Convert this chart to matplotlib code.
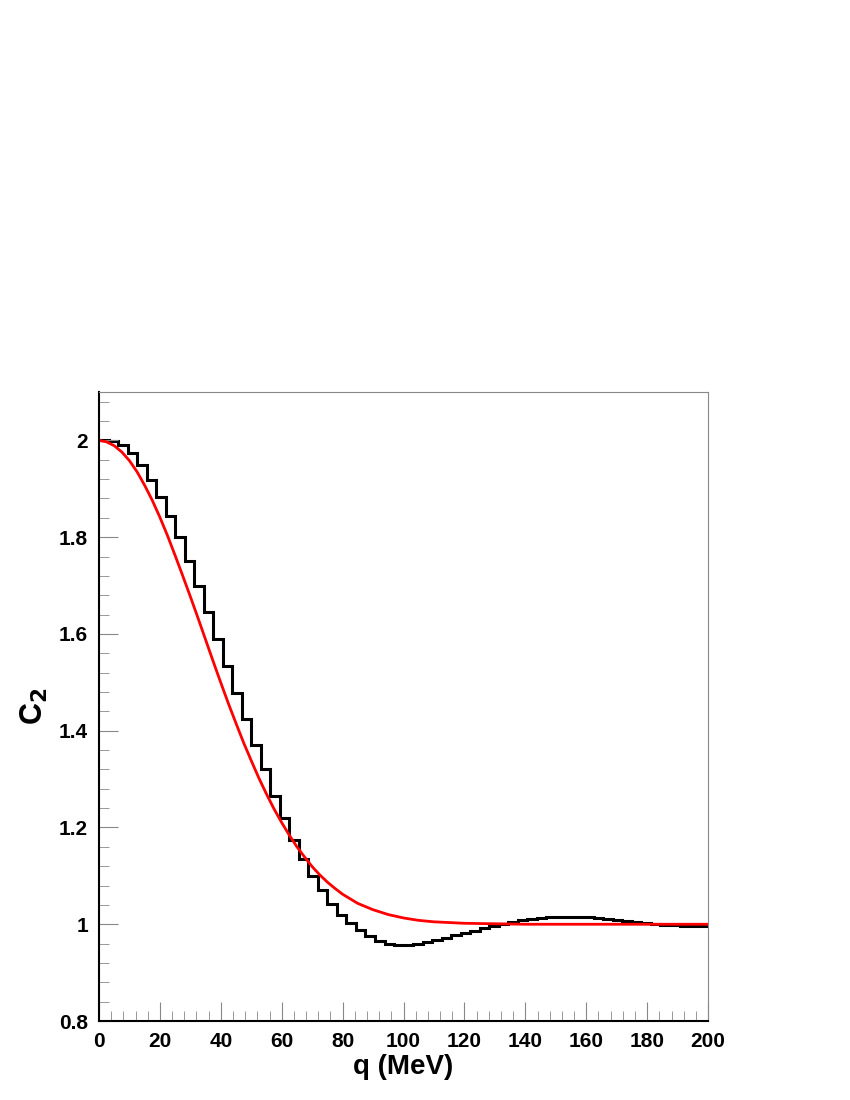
import matplotlib

matplotlib.use("Agg")
import matplotlib.pyplot as plt
from matplotlib.ticker import MultipleLocator

plt.rcParams["font.family"] = ["Liberation Sans", "DejaVu Sans"]
plt.rcParams["font.weight"] = "bold"

# histogram: 64 bins over 0-200 MeV
BIN_W = 3.125
C2_HIST = [2.0, 1.999, 1.99, 1.973, 1.95, 1.919, 1.884, 1.843, 1.80, 1.75, 1.70, 1.646,
           1.59, 1.534, 1.478, 1.424, 1.37, 1.32, 1.265, 1.22, 1.175, 1.135, 1.10, 1.07,
           1.042, 1.02, 1.002, 0.988, 0.975, 0.966, 0.96, 0.957,
           0.957, 0.96, 0.963, 0.967, 0.972, 0.977, 0.982, 0.987, 0.992, 0.997, 1.001,
           1.005, 1.008, 1.011, 1.013, 1.015, 1.016, 1.016, 1.016, 1.015, 1.013, 1.011,
           1.009, 1.007, 1.005, 1.003, 1.001, 0.999, 0.998, 0.997, 0.996, 0.996]
# fit curve (red), sampled
Q_FIT = [0, 2.5, 5, 7.5, 10, 12.5, 15, 17.5, 20, 22.5, 25, 27.5, 30, 32.5, 35, 37.5, 40,
         42.5, 45, 47.5, 50, 52.5, 55, 57.5, 60, 62.5, 65, 67.5, 70, 72.5, 75, 77.5, 80,
         85, 90, 95, 100, 105, 110, 120, 130, 140, 200]
C2_FIT = [2.0, 1.997, 1.989, 1.976, 1.958, 1.935, 1.907, 1.876, 1.841, 1.803, 1.762,
          1.720, 1.677, 1.633, 1.588, 1.543, 1.499, 1.456, 1.415, 1.375, 1.338, 1.302,
          1.269, 1.238, 1.210, 1.184, 1.160, 1.139, 1.119, 1.102, 1.087, 1.074, 1.062,
          1.043, 1.030, 1.020, 1.013, 1.008, 1.005, 1.002, 1.001, 1.0, 1.0]

edges = [i * BIN_W for i in range(len(C2_HIST) + 1)]

fig = plt.figure(figsize=(8.5, 11), dpi=100)
ax = fig.add_axes([0.1165, 0.0718, 0.7165, 0.5718])
ax.stairs(C2_HIST, edges, color="black", lw=2.2, baseline=None)
ax.plot(Q_FIT, C2_FIT, color="#ff0000", lw=2)

ax.set_xlim(0, 200)
ax.set_ylim(0.8, 2.1)
ax.xaxis.set_major_locator(MultipleLocator(20))
ax.xaxis.set_minor_locator(MultipleLocator(4))
ax.yaxis.set_major_locator(MultipleLocator(0.2))
ax.yaxis.set_minor_locator(MultipleLocator(0.04))
ax.yaxis.set_major_formatter(plt.FuncFormatter(lambda v, p: f"{v:g}"))
ax.tick_params(which="both", direction="in", top=False, right=False, color="#888888",
               labelsize=15, pad=8)
ax.tick_params(which="major", length=14)
ax.tick_params(which="minor", length=7)
for s in ax.spines.values():
    s.set_color("#888888")
    s.set_linewidth(0.8)
ax.spines["left"].set_color("black")
ax.spines["left"].set_linewidth(1.5)
ax.spines["bottom"].set_color("black")
ax.spines["bottom"].set_linewidth(1.5)
ax.set_xlabel("q (MeV)", fontsize=20, fontweight="bold", labelpad=2)
ax.set_ylabel("C$_\\mathbf{2}$", fontsize=22, fontweight="bold", labelpad=6)

fig.savefig("out.png", dpi=100)
